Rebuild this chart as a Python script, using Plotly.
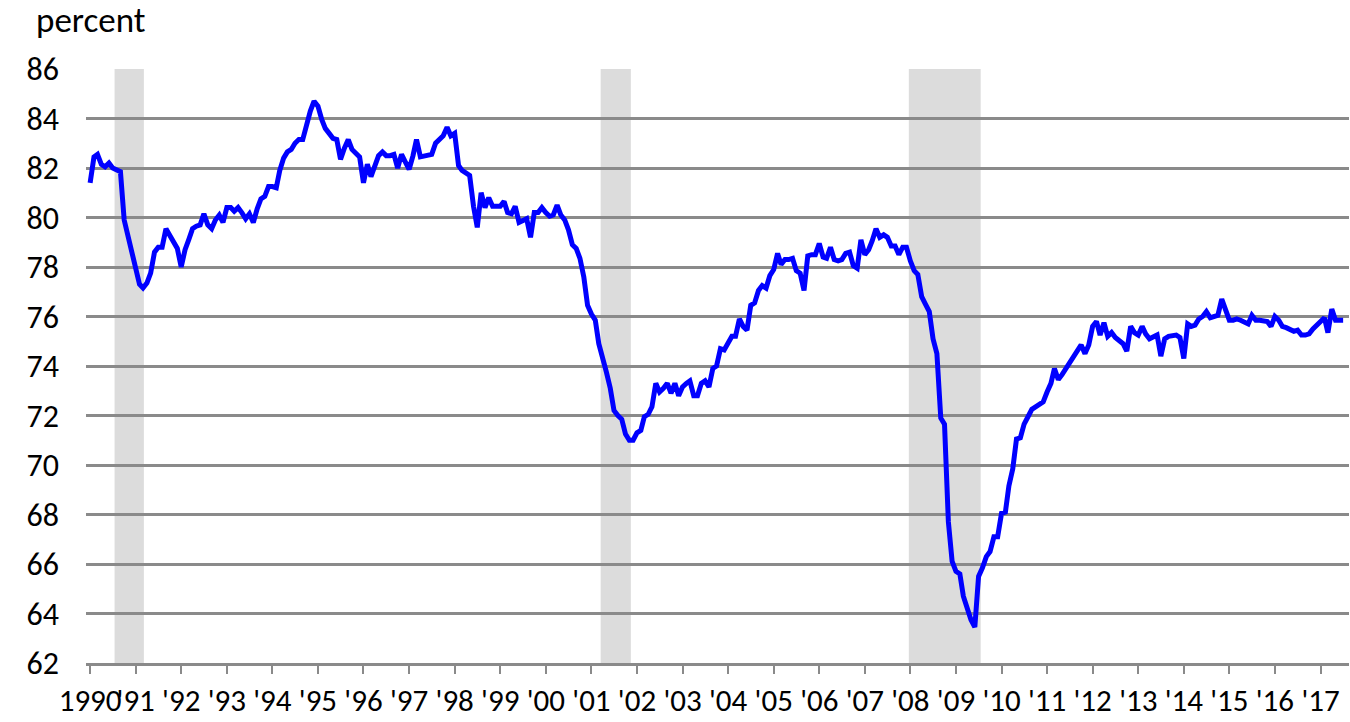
import pandas as pd
import plotly.graph_objects as go

# Monthly capacity utilization (percent)
cu_1990 = [81.4, 82.45, 82.55, 82.15, 82.05, 82.2, 82.0, 81.9, 81.85, 79.9, 79.25, 78.6]
cu_1991 = [77.9, 77.3, 77.15, 77.35, 77.75, 78.6, 78.8, 78.8, 79.55, 79.3, 78.95, 78.75]
cu_1992 = [78.0, 78.7, 79.1, 79.55, 79.65, 79.7, 80.15, 79.7, 79.55, 79.9, 80.1, 79.8]
cu_1993 = [80.4, 80.4, 80.25, 80.4, 80.2, 79.95, 80.15, 79.8, 80.35, 80.75, 80.85, 81.25]
cu_1994 = [81.25, 81.2, 81.9, 82.4, 82.65, 82.75, 83.0, 83.15, 83.15, 83.8, 84.3, 84.7]
cu_1995 = [84.5, 83.95, 83.6, 83.4, 83.2, 83.15, 82.35, 82.8, 83.15, 82.75, 82.6, 82.45]
cu_1996 = [81.4, 82.15, 81.65, 82.05, 82.5, 82.65, 82.5, 82.5, 82.55, 82.0, 82.55, 82.25]
cu_1997 = [81.95, 82.5, 83.15, 82.45, 82.5, 82.55, 82.55, 83.0, 83.15, 83.3, 83.65, 83.3]
cu_1998 = [83.4, 82.1, 81.9, 81.8, 81.7, 80.45, 79.6, 81.0, 80.4, 80.8, 80.45, 80.45]
cu_1999 = [80.45, 80.65, 80.2, 80.15, 80.45, 79.8, 79.9, 79.95, 79.2, 80.2, 80.2, 80.4]
cu_2000 = [80.2, 80.05, 80.1, 80.5, 80.1, 79.9, 79.5, 78.9, 78.75, 78.35, 77.6, 76.45]
cu_2001 = [76.1, 75.85, 74.9, 74.2, 73.75, 73.1, 72.2, 72.0, 71.85, 71.25, 71.0, 71.0]
cu_2002 = [71.3, 71.4, 71.95, 72.05, 72.35, 73.3, 72.95, 73.1, 73.3, 72.9, 73.3, 72.8]
cu_2003 = [73.15, 73.3, 73.4, 72.8, 72.8, 73.3, 73.4, 73.15, 73.9, 74.0, 74.7, 74.65]
cu_2004 = [74.95, 75.2, 75.2, 75.9, 75.6, 75.45, 76.45, 76.55, 77.05, 77.25, 77.15, 77.65]
cu_2005 = [77.9, 78.55, 78.1, 78.3, 78.3, 78.35, 77.85, 77.75, 77.05, 78.45, 78.5, 78.5]
cu_2006 = [78.95, 78.4, 78.35, 78.8, 78.3, 78.25, 78.3, 78.55, 78.6, 78.05, 77.95, 79.1]
cu_2007 = [78.5, 78.7, 79.05, 79.55, 79.2, 79.3, 79.2, 78.85, 78.85, 78.5, 78.8, 78.8]
cu_2008 = [78.25, 77.85, 77.7, 76.8, 76.5, 76.2, 75.1, 74.5, 71.9, 71.65, 67.7, 66.1]
cu_2009 = [65.7, 65.6, 64.7, 64.15, 63.75, 63.45, 65.5, 65.85, 66.3, 66.5, 67.1, 67.1]
cu_2010 = [68.05, 68.1, 69.15, 69.85, 71.05, 71.1, 71.65, 71.95, 72.25, 72.35, 72.45, 72.55]
cu_2011 = [72.95, 73.3, 73.9, 73.45, 73.65, 73.9, 74.05, 74.3, 74.55, 74.85, 74.5, 74.85]
cu_2012 = [75.6, 75.8, 75.25, 75.75, 75.2, 75.35, 75.15, 75.05, 74.9, 74.6, 75.6, 75.35]
cu_2013 = [75.25, 75.6, 75.3, 75.1, 75.2, 75.25, 74.4, 75.1, 75.2, 75.25, 75.25, 75.15]
cu_2014 = [74.3, 75.7, 75.6, 75.65, 75.9, 76.0, 76.2, 75.95, 76.0, 76.05, 76.7, 76.3]
cu_2015 = [75.85, 75.85, 75.9, 75.85, 75.75, 75.7, 76.05, 75.85, 75.85, 75.85, 75.8, 75.6]
cu_2016 = [76.0, 75.85, 75.6, 75.55, 75.45, 75.4, 75.45, 75.25, 75.25, 75.3, 75.5, 75.65]
cu_2017 = [75.8, 75.95, 75.35, 76.3, 75.85, 75.85, 75.85]

# Recession periods (shaded bands)
recession_starts = ["1990-07-16", "2001-03-16", "2007-12-20"]
recession_ends = ["1991-03-08", "2001-11-13", "2009-07-18"]

# Axis tick labels
tick_years = list(range(1990, 2018))
tick_labels = ["1990"] + ["'" + str(y)[2:] for y in tick_years[1:]]
y_ticks = list(range(62, 87, 2))

values = (cu_1990 + cu_1991 + cu_1992 + cu_1993 + cu_1994 + cu_1995 + cu_1996 +
          cu_1997 + cu_1998 + cu_1999 + cu_2000 + cu_2001 + cu_2002 + cu_2003 +
          cu_2004 + cu_2005 + cu_2006 + cu_2007 + cu_2008 + cu_2009 + cu_2010 +
          cu_2011 + cu_2012 + cu_2013 + cu_2014 + cu_2015 + cu_2016 + cu_2017)
dates = pd.date_range("1990-01-01", periods=len(values), freq="MS")

FONT = "Carlito, 'Liberation Sans Narrow', Lato, sans-serif"
GRID = "#8A8A8A"

fig = go.Figure()
for s, e in zip(recession_starts, recession_ends):
    fig.add_vrect(x0=s, x1=e, fillcolor="#DCDCDC", line_width=0, layer="below", opacity=1)

fig.add_trace(go.Scatter(x=dates, y=values, mode="lines",
                         line=dict(color="#0000FF", width=5), hoverinfo="x+y"))

fig.update_layout(
    width=1350, height=722,
    margin=dict(l=86, r=1, t=69, b=59, autoexpand=False),
    paper_bgcolor="white", plot_bgcolor="white",
    showlegend=False,
    font=dict(family=FONT, color="black", size=32),
    annotations=[dict(text="percent", xref="paper", yref="paper", x=-0.041, y=1.043,
                      xanchor="left", yanchor="bottom", showarrow=False,
                      font=dict(family=FONT, size=35, color="black"))],
)
fig.update_xaxes(
    type="date", range=["1989-11-29", "2017-08-17"], automargin=False,
    tickmode="array", tickvals=[f"{y}-01-01" for y in tick_years], ticktext=tick_labels,
    tickangle=0, ticks="outside", ticklen=8, tickwidth=2, tickcolor=GRID,
    showline=True, linecolor=GRID, linewidth=3, showgrid=False, zeroline=False,
    ticklabelstandoff=0,
    tickfont=dict(family=FONT, size=31, color="black"),
)
fig.update_yaxes(
    range=[62, 86], tickvals=y_ticks, showgrid=True, gridcolor=GRID, gridwidth=2.5,
    zeroline=False, showline=False, ticks="", ticklabelstandoff=26, automargin=False,
    tickfont=dict(family=FONT, size=32, color="black"),
)

fig.write_html(
    "out.html",
    config={"displayModeBar": False},
    post_script="document.body.style.margin='0px'; document.body.style.overflow='hidden';",
)
